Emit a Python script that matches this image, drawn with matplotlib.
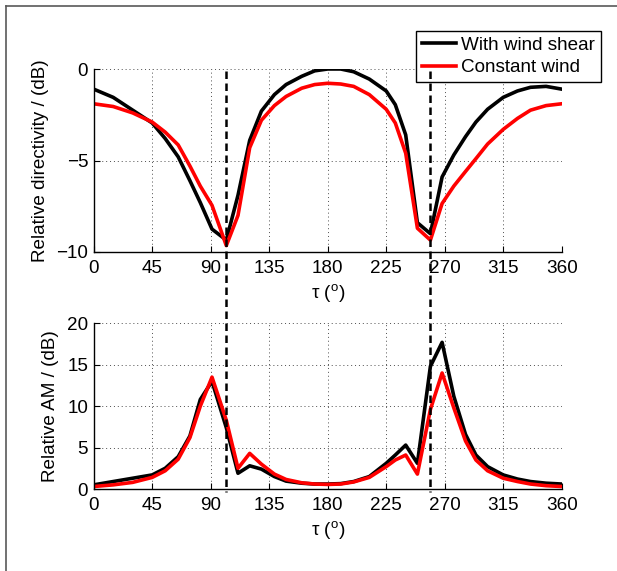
import numpy as np
import matplotlib
matplotlib.use('Agg')
import matplotlib.pyplot as plt
from matplotlib.lines import Line2D

plt.rcParams['font.family'] = ['Liberation Sans', 'DejaVu Sans']
plt.rcParams['axes.unicode_minus'] = True

# angle tau (deg)
tau = [0, 15, 30, 45, 55, 65, 74, 82, 91, 102, 111, 120, 129, 139, 148, 160, 170,
       180, 190, 200, 212, 225, 232, 240, 249, 259, 268, 277, 286, 294, 303, 315,
       326, 336, 348, 360]

# relative directivity (dB)
dir_shear = [-1.1, -1.55, -2.25, -2.95, -3.8, -4.8, -6.1, -7.3, -8.75, -9.35, -6.9,
             -3.9, -2.3, -1.4, -0.85, -0.4, -0.1, 0.0, 0.0, -0.15, -0.55, -1.2, -1.95,
             -3.6, -8.4, -9.0, -5.9, -4.7, -3.7, -2.9, -2.2, -1.55, -1.2, -1.0, -0.95,
             -1.1]
dir_const = [-1.9, -2.05, -2.4, -2.9, -3.45, -4.15, -5.3, -6.4, -7.45, -9.65, -8.0,
             -4.3, -2.8, -2.0, -1.5, -1.05, -0.85, -0.78, -0.82, -0.95, -1.4, -2.2,
             -2.95, -4.6, -8.7, -9.35, -7.35, -6.4, -5.6, -4.9, -4.1, -3.3, -2.7, -2.25,
             -2.0, -1.9]

# relative AM (dB)
am_shear = [0.5, 0.9, 1.3, 1.7, 2.5, 3.9, 6.4, 10.8, 13.0, 7.4, 1.9, 2.8, 2.4, 1.5,
            0.95, 0.7, 0.6, 0.6, 0.65, 0.9, 1.5, 3.1, 4.1, 5.3, 3.1, 14.8, 17.7, 11.2,
            6.6, 4.1, 2.7, 1.7, 1.2, 0.9, 0.7, 0.6]
am_const = [0.3, 0.5, 0.8, 1.4, 2.2, 3.6, 6.2, 10.0, 13.5, 8.3, 2.5, 4.3, 3.0, 1.8,
            1.15, 0.75, 0.6, 0.55, 0.6, 0.85, 1.4, 2.7, 3.5, 4.1, 1.8, 9.6, 14.0, 9.8,
            5.8, 3.5, 2.2, 1.3, 0.9, 0.6, 0.4, 0.3]

tau_crit = [102, 259]

W, H = 617, 571
fig = plt.figure(figsize=(W / 100, H / 100), dpi=100)
ax1 = fig.add_axes([93.7 / W, 1 - 252 / H, 468 / W, 183 / H])
ax2 = fig.add_axes([93.7 / W, 1 - 489 / H, 468 / W, 165.7 / H])

fs = 13.6
xlab = r'τ ($^{\mathregular{o}}$)'


def style(ax):
    ax.set_xlim(0, 360)
    ax.set_xticks(range(0, 361, 45))
    ax.grid(True, color='0.3', linestyle=(0, (1, 3)), lw=0.7)
    ax.set_axisbelow(True)
    for s in ['top', 'right']:
        ax.spines[s].set_visible(False)
    ax.spines['left'].set_linewidth(1.0)
    ax.spines['bottom'].set_linewidth(1.0)
    ax.tick_params(direction='in', length=4, labelsize=fs)
    ax.tick_params(axis='x', pad=5.5)
    ax.tick_params(axis='y', pad=4)
    ax.set_xlabel(xlab, fontsize=fs, labelpad=4)


ax1.plot(tau, dir_shear, color='black', lw=2.6, label='With wind shear')
ax1.plot(tau, dir_const, color='red', lw=2.6, label='Constant wind')
ax1.set_ylim(-10, 0)
ax1.set_yticks([-10, -5, 0])
style(ax1)
ax1.set_ylabel('Relative directivity / (dB)', fontsize=fs, labelpad=5)

ax2.plot(tau, am_shear, color='black', lw=2.6)
ax2.plot(tau, am_const, color='red', lw=2.6)
ax2.set_ylim(0, 20)
ax2.set_yticks([0, 5, 10, 15, 20])
style(ax2)
ax2.set_ylabel('Relative AM / (dB)', fontsize=fs, labelpad=6)

# dashed critical-angle lines across both panels
inv = fig.transFigure.inverted()
for t in tau_crit:
    x0, y0 = inv.transform(ax1.transData.transform((t, -0.1)))
    x1, y1 = inv.transform(ax2.transData.transform((t, -0.4)))
    fig.add_artist(Line2D([x0, x1], [y0, y1], transform=fig.transFigure,
                          color='black', lw=1.8, dashes=(3.0, 1.8)))

leg = ax1.legend(loc='upper right', bbox_to_anchor=(601 / W, 1 - 30.7 / H),
                 bbox_transform=fig.transFigure, fontsize=fs, frameon=True,
                 fancybox=False, framealpha=1, edgecolor='black', borderaxespad=0,
                 handlelength=1.8, handletextpad=0.3, borderpad=0.3,
                 labelspacing=0.3)
leg.get_frame().set_linewidth(1.0)

# outer figure frame
fig.add_artist(Line2D([6 / W, 1.0], [1 - 6 / H, 1 - 6 / H], transform=fig.transFigure,
                      color='0.35', lw=1.2))
fig.add_artist(Line2D([6 / W, 6 / W], [1 - 6 / H, 0.0], transform=fig.transFigure,
                      color='0.35', lw=1.2))

fig.savefig('out.png', dpi=100)
